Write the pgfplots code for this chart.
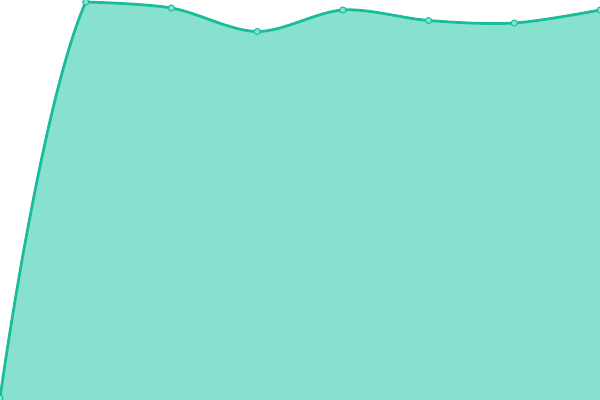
\documentclass[border=0pt]{standalone}
\usepackage{pgfplots}
\usepackage{pgfplotstable}
\pgfplotsset{compat=1.18}
\definecolor{teal1}{HTML}{1ABC9C}
\definecolor{tealfill}{HTML}{88E0CE}

% values as y = 400 - pixel row
\pgfplotstableread{
x y
0 2
1 398
2 392
3 368.5
4 390
5 379.5
6 377
7 390
}\series

\begin{document}
\begin{tikzpicture}
  \begin{axis}[
      scale only axis,
      width=6in, height=4in,
      hide axis,
      xmin=0, xmax=7,
      ymin=0, ymax=400,
      clip=true,
    ]
    % rising first segment: smooth through the first three points, kept left of x=1
    \begin{scope}
      \clip (axis cs:0,0) rectangle (axis cs:1.01,400);
      \addplot[smooth, tension=0.95, draw=none, fill=tealfill,
        restrict x to domain=0:2] table {\series} \closedcycle;
    \end{scope}
    \begin{scope}
      \clip (axis cs:0,0) rectangle (axis cs:1,400);
      \addplot[smooth, tension=0.95, draw=teal1, line width=2pt,
        restrict x to domain=0:2] table {\series};
    \end{scope}
    % remaining points
    \addplot[smooth, tension=0.55, draw=none, fill=tealfill,
      restrict x to domain=1:7] table {\series} \closedcycle;
    \addplot[smooth, tension=0.55, draw=teal1, line width=2pt,
      restrict x to domain=1:7] table {\series};
    % point markers
    \addplot[only marks, mark=*, mark size=2.2pt,
      mark options={draw=teal1, fill=tealfill, line width=0.7pt}]
      table {\series};
  \end{axis}
  \pgfresetboundingbox
  \path[use as bounding box] (current axis.south west) rectangle (current axis.north east);
\end{tikzpicture}
\end{document}
